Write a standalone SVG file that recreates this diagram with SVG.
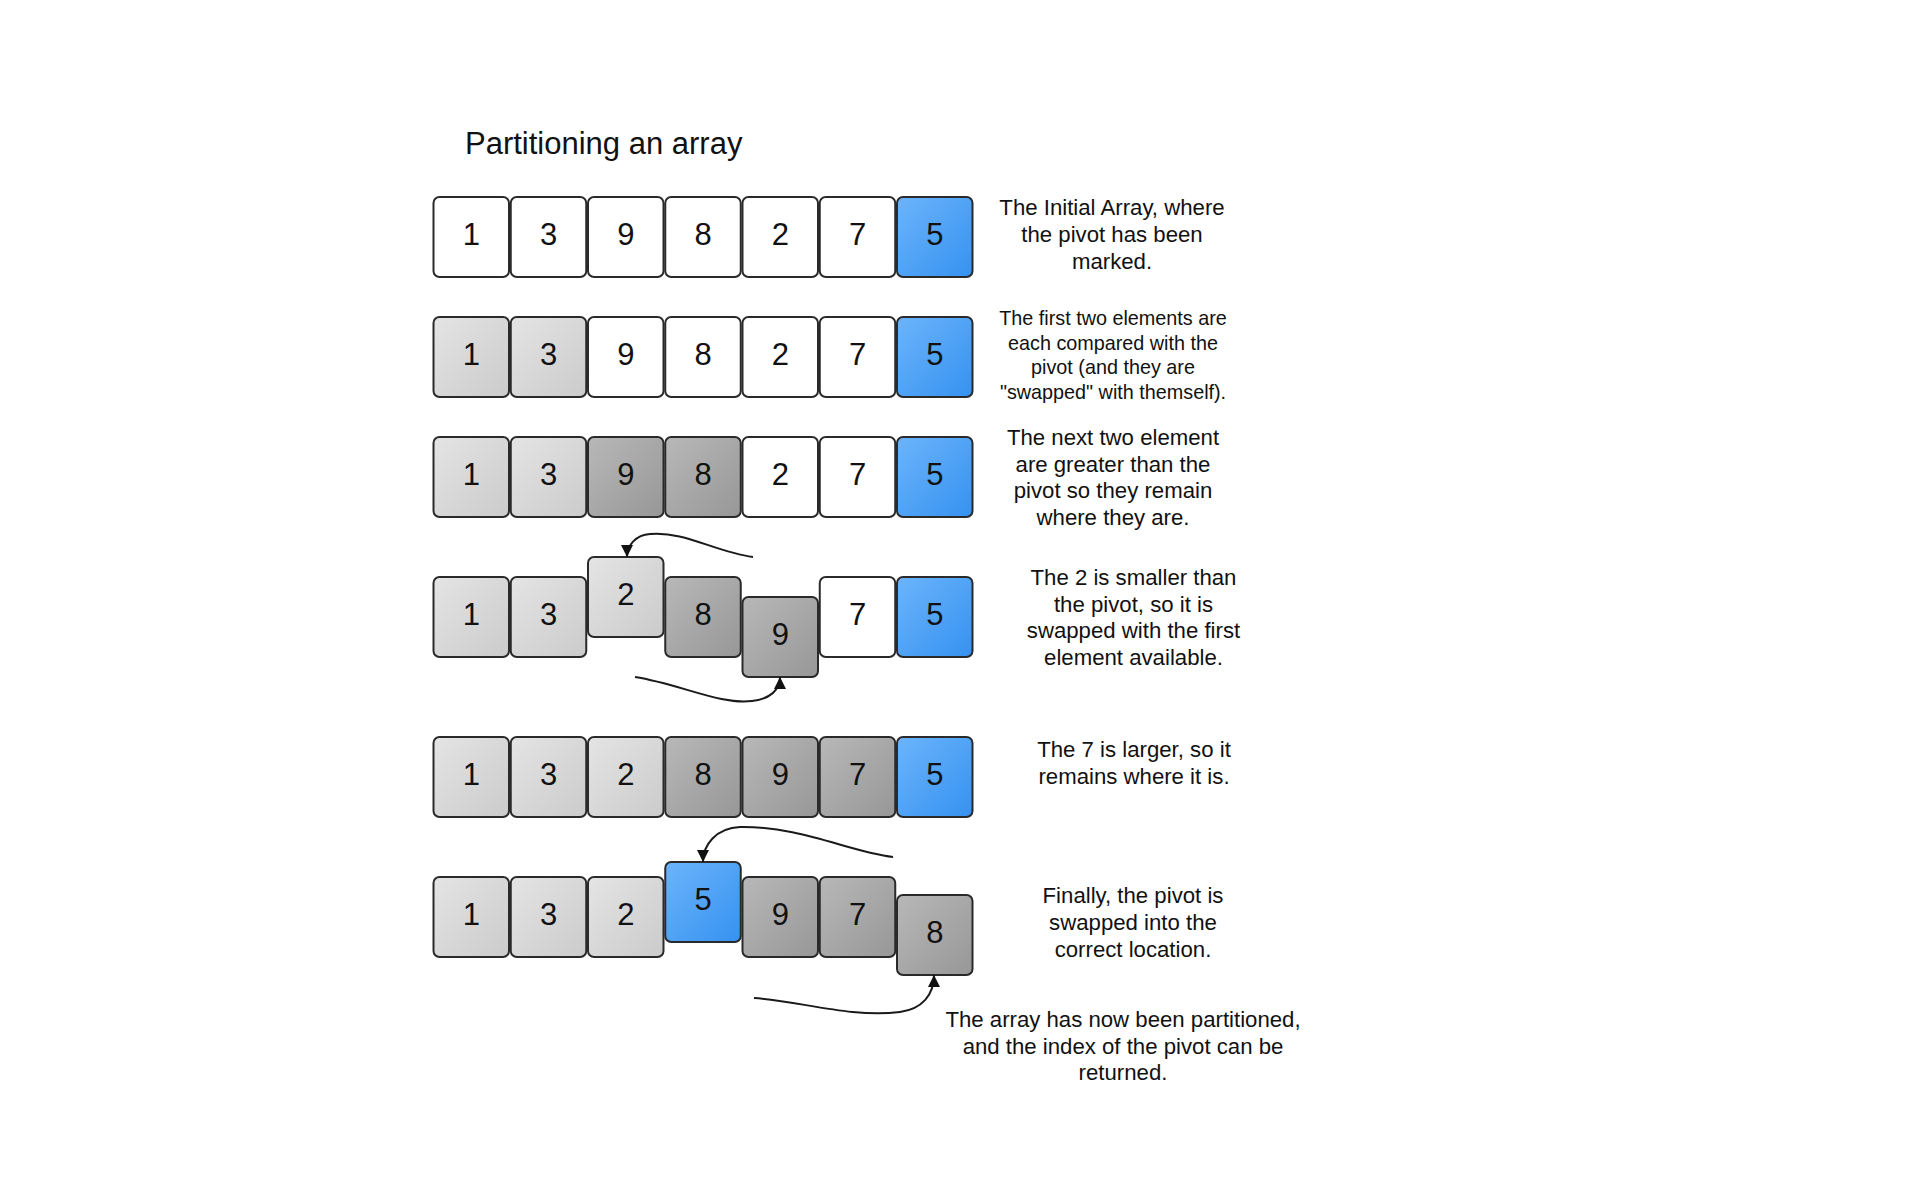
<svg xmlns="http://www.w3.org/2000/svg" width="1920" height="1184" viewBox="0 0 1920 1184">
<defs>
<linearGradient id="gLight" x1="0" y1="0" x2="1" y2="1"><stop offset="0" stop-color="#e4e4e4"/><stop offset="1" stop-color="#cbcbcb"/></linearGradient>
<linearGradient id="gDark" x1="0" y1="0" x2="1" y2="1"><stop offset="0" stop-color="#b8b8b8"/><stop offset="1" stop-color="#979797"/></linearGradient>
<linearGradient id="gBlue" x1="0" y1="0" x2="1" y2="1"><stop offset="0" stop-color="#6cb4fb"/><stop offset="1" stop-color="#3592f0"/></linearGradient>
<marker id="arr" viewBox="0 0 10 10" refX="10" refY="5" markerWidth="12" markerHeight="12" markerUnits="userSpaceOnUse" orient="auto"><path d="M0,0 L10,5 L0,10 z" fill="#111"/></marker>
</defs>
<style>
.b{stroke:#2a2a2a;stroke-width:2}
.w{fill:#ffffff}
.l{fill:url(#gLight)}
.d{fill:url(#gDark)}
.p{fill:url(#gBlue)}
.n{font-family:"Liberation Sans",Arial,sans-serif;font-size:31px;fill:#111;text-anchor:middle}
.t{font-family:"Liberation Sans",Arial,sans-serif;font-size:22.2px;fill:#111;text-anchor:middle}
.s{font-family:"Liberation Sans",Arial,sans-serif;font-size:19.8px;fill:#111;text-anchor:middle}
.c{fill:none;stroke:#1a1a1a;stroke-width:2;marker-end:url(#arr)}
</style>
<rect width="1920" height="1184" fill="#ffffff"/>
<text id="title" x="465" y="154" style="font-family:'Liberation Sans',Arial,sans-serif;font-size:31px;fill:#111">Partitioning an array</text>

<g id="row1">
<g id="r1b0"><rect class="b w" x="433.5" y="197" width="75.5" height="80" rx="6"/><text class="n" x="471.25" y="245">1</text></g>
<g id="r1b1"><rect class="b w" x="510.75" y="197" width="75.5" height="80" rx="6"/><text class="n" x="548.5" y="245">3</text></g>
<g id="r1b2"><rect class="b w" x="588" y="197" width="75.5" height="80" rx="6"/><text class="n" x="625.75" y="245">9</text></g>
<g id="r1b3"><rect class="b w" x="665.25" y="197" width="75.5" height="80" rx="6"/><text class="n" x="703" y="245">8</text></g>
<g id="r1b4"><rect class="b w" x="742.5" y="197" width="75.5" height="80" rx="6"/><text class="n" x="780.25" y="245">2</text></g>
<g id="r1b5"><rect class="b w" x="819.75" y="197" width="75.5" height="80" rx="6"/><text class="n" x="857.5" y="245">7</text></g>
<g id="r1b6"><rect class="b p" x="897" y="197" width="75.5" height="80" rx="6"/><text class="n" x="934.75" y="245">5</text></g>
</g>

<g id="row2">
<g id="r2b0"><rect class="b l" x="433.5" y="317" width="75.5" height="80" rx="6"/><text class="n" x="471.25" y="365">1</text></g>
<g id="r2b1"><rect class="b l" x="510.75" y="317" width="75.5" height="80" rx="6"/><text class="n" x="548.5" y="365">3</text></g>
<g id="r2b2"><rect class="b w" x="588" y="317" width="75.5" height="80" rx="6"/><text class="n" x="625.75" y="365">9</text></g>
<g id="r2b3"><rect class="b w" x="665.25" y="317" width="75.5" height="80" rx="6"/><text class="n" x="703" y="365">8</text></g>
<g id="r2b4"><rect class="b w" x="742.5" y="317" width="75.5" height="80" rx="6"/><text class="n" x="780.25" y="365">2</text></g>
<g id="r2b5"><rect class="b w" x="819.75" y="317" width="75.5" height="80" rx="6"/><text class="n" x="857.5" y="365">7</text></g>
<g id="r2b6"><rect class="b p" x="897" y="317" width="75.5" height="80" rx="6"/><text class="n" x="934.75" y="365">5</text></g>
</g>

<g id="row3">
<g id="r3b0"><rect class="b l" x="433.5" y="437" width="75.5" height="80" rx="6"/><text class="n" x="471.25" y="485">1</text></g>
<g id="r3b1"><rect class="b l" x="510.75" y="437" width="75.5" height="80" rx="6"/><text class="n" x="548.5" y="485">3</text></g>
<g id="r3b2"><rect class="b d" x="588" y="437" width="75.5" height="80" rx="6"/><text class="n" x="625.75" y="485">9</text></g>
<g id="r3b3"><rect class="b d" x="665.25" y="437" width="75.5" height="80" rx="6"/><text class="n" x="703" y="485">8</text></g>
<g id="r3b4"><rect class="b w" x="742.5" y="437" width="75.5" height="80" rx="6"/><text class="n" x="780.25" y="485">2</text></g>
<g id="r3b5"><rect class="b w" x="819.75" y="437" width="75.5" height="80" rx="6"/><text class="n" x="857.5" y="485">7</text></g>
<g id="r3b6"><rect class="b p" x="897" y="437" width="75.5" height="80" rx="6"/><text class="n" x="934.75" y="485">5</text></g>
</g>

<g id="row4">
<g id="r4b0"><rect class="b l" x="433.5" y="577" width="75.5" height="80" rx="6"/><text class="n" x="471.25" y="625">1</text></g>
<g id="r4b1"><rect class="b l" x="510.75" y="577" width="75.5" height="80" rx="6"/><text class="n" x="548.5" y="625">3</text></g>
<g id="r4b2"><rect class="b l" x="588" y="557" width="75.5" height="80" rx="6"/><text class="n" x="625.75" y="605">2</text></g>
<g id="r4b3"><rect class="b d" x="665.25" y="577" width="75.5" height="80" rx="6"/><text class="n" x="703" y="625">8</text></g>
<g id="r4b4"><rect class="b d" x="742.5" y="597" width="75.5" height="80" rx="6"/><text class="n" x="780.25" y="645">9</text></g>
<g id="r4b5"><rect class="b w" x="819.75" y="577" width="75.5" height="80" rx="6"/><text class="n" x="857.5" y="625">7</text></g>
<g id="r4b6"><rect class="b p" x="897" y="577" width="75.5" height="80" rx="6"/><text class="n" x="934.75" y="625">5</text></g>
</g>

<g id="row5">
<g id="r5b0"><rect class="b l" x="433.5" y="737" width="75.5" height="80" rx="6"/><text class="n" x="471.25" y="785">1</text></g>
<g id="r5b1"><rect class="b l" x="510.75" y="737" width="75.5" height="80" rx="6"/><text class="n" x="548.5" y="785">3</text></g>
<g id="r5b2"><rect class="b l" x="588" y="737" width="75.5" height="80" rx="6"/><text class="n" x="625.75" y="785">2</text></g>
<g id="r5b3"><rect class="b d" x="665.25" y="737" width="75.5" height="80" rx="6"/><text class="n" x="703" y="785">8</text></g>
<g id="r5b4"><rect class="b d" x="742.5" y="737" width="75.5" height="80" rx="6"/><text class="n" x="780.25" y="785">9</text></g>
<g id="r5b5"><rect class="b d" x="819.75" y="737" width="75.5" height="80" rx="6"/><text class="n" x="857.5" y="785">7</text></g>
<g id="r5b6"><rect class="b p" x="897" y="737" width="75.5" height="80" rx="6"/><text class="n" x="934.75" y="785">5</text></g>
</g>

<g id="row6">
<g id="r6b0"><rect class="b l" x="433.5" y="877" width="75.5" height="80" rx="6"/><text class="n" x="471.25" y="925">1</text></g>
<g id="r6b1"><rect class="b l" x="510.75" y="877" width="75.5" height="80" rx="6"/><text class="n" x="548.5" y="925">3</text></g>
<g id="r6b2"><rect class="b l" x="588" y="877" width="75.5" height="80" rx="6"/><text class="n" x="625.75" y="925">2</text></g>
<g id="r6b3"><rect class="b p" x="665.25" y="862" width="75.5" height="80" rx="6"/><text class="n" x="703" y="910">5</text></g>
<g id="r6b4"><rect class="b d" x="742.5" y="877" width="75.5" height="80" rx="6"/><text class="n" x="780.25" y="925">9</text></g>
<g id="r6b5"><rect class="b d" x="819.75" y="877" width="75.5" height="80" rx="6"/><text class="n" x="857.5" y="925">7</text></g>
<g id="r6b6"><rect class="b d" x="897" y="895" width="75.5" height="80" rx="6"/><text class="n" x="934.75" y="943">8</text></g>
</g>

<g id="connectors">
<path class="c" d="M 753 557 C 715 552, 685 531, 650 534 C 636 535, 627 545, 627 557"/>
<path class="c" d="M 635 677 C 680 684, 720 705, 752 701 C 770 699, 780 690, 780 677"/>
<path class="c" d="M 893 857 C 850 852, 800 826, 740 827 C 716 828, 703 845, 703 862"/>
<path class="c" d="M 754 998 C 800 1001, 850 1018, 900 1012 C 922 1009, 934 995, 934 975"/>
</g>

<g id="notes">
<text class="t" x="1112" y="215"><tspan x="1112">The Initial Array, where</tspan><tspan x="1112" dy="27">the pivot has been</tspan><tspan x="1112" dy="27">marked.</tspan></text>
<text class="s" x="1113" y="325"><tspan x="1113">The first two elements are</tspan><tspan x="1113" dy="24.5">each compared with the</tspan><tspan x="1113" dy="24.5">pivot (and they are</tspan><tspan x="1113" dy="24.5">"swapped" with themself).</tspan></text>
<text class="t" x="1113" y="445"><tspan x="1113">The next two element</tspan><tspan x="1113" dy="26.5">are greater than the</tspan><tspan x="1113" dy="26.5">pivot so they remain</tspan><tspan x="1113" dy="26.5">where they are.</tspan></text>
<text class="t" x="1133.5" y="585"><tspan x="1133.5">The 2 is smaller than</tspan><tspan x="1133.5" dy="26.7">the pivot, so it is</tspan><tspan x="1133.5" dy="26.7">swapped with the first</tspan><tspan x="1133.5" dy="26.7">element available.</tspan></text>
<text class="t" x="1134" y="757"><tspan x="1134">The 7 is larger, so it</tspan><tspan x="1134" dy="26.7">remains where it is.</tspan></text>
<text class="t" x="1133" y="903"><tspan x="1133">Finally, the pivot is</tspan><tspan x="1133" dy="27">swapped into the</tspan><tspan x="1133" dy="27">correct location.</tspan></text>
<text class="t" x="1123" y="1027"><tspan x="1123">The array has now been partitioned,</tspan><tspan x="1123" dy="26.7">and the index of the pivot can be</tspan><tspan x="1123" dy="26.7">returned.</tspan></text>
</g>
</svg>
